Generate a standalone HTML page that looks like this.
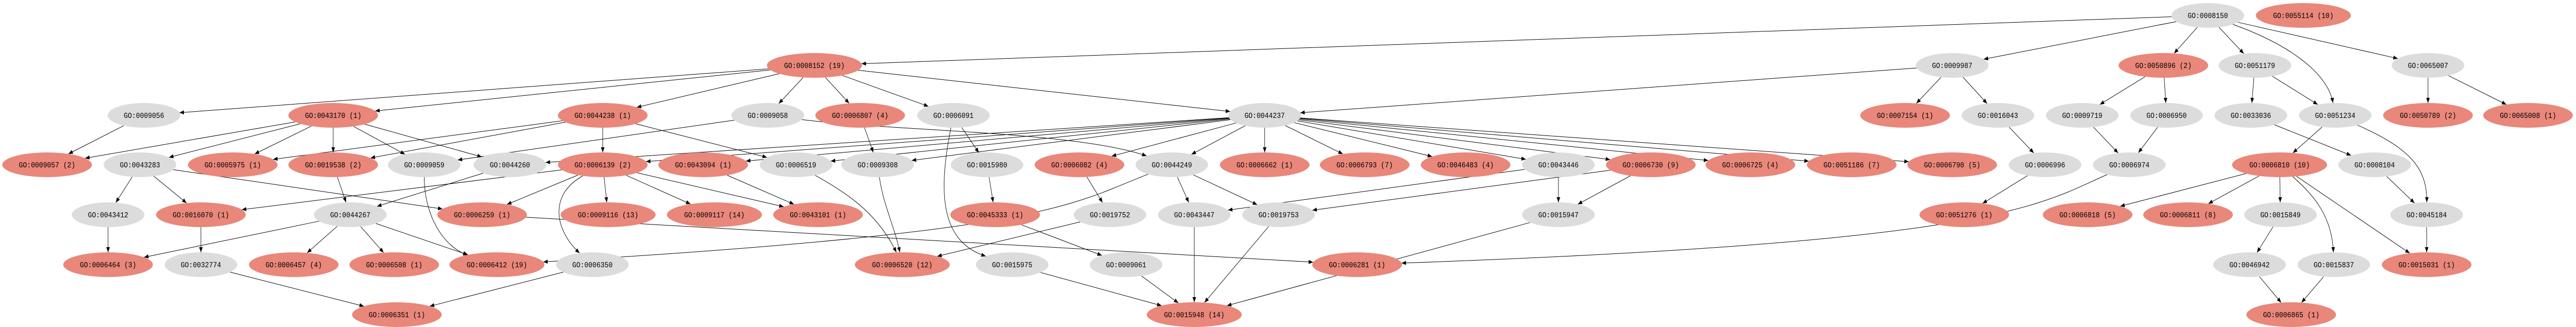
<!DOCTYPE html>
<html><head><meta charset="utf-8"><style>
html,body{margin:0;padding:0;background:#fff;width:100%;height:100%;overflow:hidden;}
svg{display:block;position:absolute;left:0;top:0;width:100vw;height:100vh;overflow:hidden;}
text{font-family:"Liberation Mono",monospace;font-size:15px;fill:#000;}
.r{fill:#E9877A;} .g{fill:#DCDCDC;}
</style></head><body>
<svg id="s" viewBox="0 0 5744 635" preserveAspectRatio="none" xmlns="http://www.w3.org/2000/svg">
<defs><marker id="a" markerWidth="10" markerHeight="8" refX="10" refY="4" orient="auto" markerUnits="userSpaceOnUse"><path d="M0,0 L10,4 L0,8 z" fill="#000"/></marker></defs>
<g id="edges" stroke="#000" stroke-width="1" fill="none"></g>
<g id="nodes" text-anchor="middle">
<g id="n0008150"><ellipse class="g" cx="4923" cy="30" rx="81" ry="24"/><text x="4923" y="35">GO:0008150</text></g>
<g id="n0055114"><ellipse class="r" cx="5136" cy="30" rx="106" ry="24"/><text x="5136" y="35">GO:0055114 (10)</text></g>
<g id="n0008152"><ellipse class="r" cx="1816" cy="127" rx="106" ry="24"/><text x="1816" y="132">GO:0008152 (19)</text></g>
<g id="n0009987"><ellipse class="g" cx="4353" cy="127" rx="81" ry="24"/><text x="4353" y="132">GO:0009987</text></g>
<g id="n0050896"><ellipse class="r" cx="4824" cy="127" rx="100" ry="24"/><text x="4824" y="132">GO:0050896 (2)</text></g>
<g id="n0051179"><ellipse class="g" cx="5028" cy="127" rx="81" ry="24"/><text x="5028" y="132">GO:0051179</text></g>
<g id="n0065007"><ellipse class="g" cx="5414" cy="127" rx="81" ry="24"/><text x="5414" y="132">GO:0065007</text></g>
<g id="n0009056"><ellipse class="g" cx="321" cy="224" rx="81" ry="24"/><text x="321" y="229">GO:0009056</text></g>
<g id="n0043170"><ellipse class="r" cx="743" cy="224" rx="100" ry="24"/><text x="743" y="229">GO:0043170 (1)</text></g>
<g id="n0044238"><ellipse class="r" cx="1344" cy="224" rx="100" ry="24"/><text x="1344" y="229">GO:0044238 (1)</text></g>
<g id="n0009058"><ellipse class="g" cx="1712" cy="224" rx="81" ry="24"/><text x="1712" y="229">GO:0009058</text></g>
<g id="n0006807"><ellipse class="r" cx="1918" cy="224" rx="100" ry="24"/><text x="1918" y="229">GO:0006807 (4)</text></g>
<g id="n0006091"><ellipse class="g" cx="2126" cy="224" rx="81" ry="24"/><text x="2126" y="229">GO:0006091</text></g>
<g id="n0044237"><ellipse class="g" cx="2820" cy="224" rx="81" ry="24"/><text x="2820" y="229">GO:0044237</text></g>
<g id="n0007154"><ellipse class="r" cx="4248" cy="224" rx="100" ry="24"/><text x="4248" y="229">GO:0007154 (1)</text></g>
<g id="n0016043"><ellipse class="g" cx="4455" cy="224" rx="81" ry="24"/><text x="4455" y="229">GO:0016043</text></g>
<g id="n0009719"><ellipse class="g" cx="4643" cy="224" rx="81" ry="24"/><text x="4643" y="229">GO:0009719</text></g>
<g id="n0006950"><ellipse class="g" cx="4831" cy="224" rx="81" ry="24"/><text x="4831" y="229">GO:0006950</text></g>
<g id="n0033036"><ellipse class="g" cx="5019" cy="224" rx="81" ry="24"/><text x="5019" y="229">GO:0033036</text></g>
<g id="n0051234"><ellipse class="g" cx="5207" cy="224" rx="81" ry="24"/><text x="5207" y="229">GO:0051234</text></g>
<g id="n0050789"><ellipse class="r" cx="5414" cy="224" rx="100" ry="24"/><text x="5414" y="229">GO:0050789 (2)</text></g>
<g id="n0065008"><ellipse class="r" cx="5637" cy="224" rx="100" ry="24"/><text x="5637" y="229">GO:0065008 (1)</text></g>
<g id="n0009057"><ellipse class="r" cx="105" cy="320" rx="100" ry="24"/><text x="105" y="325">GO:0009057 (2)</text></g>
<g id="n0043283"><ellipse class="g" cx="312" cy="320" rx="81" ry="24"/><text x="312" y="325">GO:0043283</text></g>
<g id="n0005975"><ellipse class="r" cx="519" cy="320" rx="100" ry="24"/><text x="519" y="325">GO:0005975 (1)</text></g>
<g id="n0019538"><ellipse class="r" cx="743" cy="320" rx="100" ry="24"/><text x="743" y="325">GO:0019538 (2)</text></g>
<g id="n0009059"><ellipse class="g" cx="946" cy="320" rx="81" ry="24"/><text x="946" y="325">GO:0009059</text></g>
<g id="n0044260"><ellipse class="g" cx="1137" cy="320" rx="81" ry="24"/><text x="1137" y="325">GO:0044260</text></g>
<g id="n0006139"><ellipse class="r" cx="1344" cy="320" rx="100" ry="24"/><text x="1344" y="325">GO:0006139 (2)</text></g>
<g id="n0043094"><ellipse class="r" cx="1568" cy="320" rx="100" ry="24"/><text x="1568" y="325">GO:0043094 (1)</text></g>
<g id="n0006519"><ellipse class="g" cx="1775" cy="320" rx="81" ry="24"/><text x="1775" y="325">GO:0006519</text></g>
<g id="n0009308"><ellipse class="g" cx="1957" cy="320" rx="81" ry="24"/><text x="1957" y="325">GO:0009308</text></g>
<g id="n0015980"><ellipse class="g" cx="2201" cy="320" rx="81" ry="24"/><text x="2201" y="325">GO:0015980</text></g>
<g id="n0006082"><ellipse class="r" cx="2407" cy="320" rx="100" ry="24"/><text x="2407" y="325">GO:0006082 (4)</text></g>
<g id="n0044249"><ellipse class="g" cx="2613" cy="320" rx="81" ry="24"/><text x="2613" y="325">GO:0044249</text></g>
<g id="n0006662"><ellipse class="r" cx="2820" cy="320" rx="100" ry="24"/><text x="2820" y="325">GO:0006662 (1)</text></g>
<g id="n0006793"><ellipse class="r" cx="3043" cy="320" rx="100" ry="24"/><text x="3043" y="325">GO:0006793 (7)</text></g>
<g id="n0046483"><ellipse class="r" cx="3268" cy="320" rx="100" ry="24"/><text x="3268" y="325">GO:0046483 (4)</text></g>
<g id="n0043446"><ellipse class="g" cx="3475" cy="320" rx="81" ry="24"/><text x="3475" y="325">GO:0043446</text></g>
<g id="n0006730"><ellipse class="r" cx="3681" cy="320" rx="100" ry="24"/><text x="3681" y="325">GO:0006730 (9)</text></g>
<g id="n0006725"><ellipse class="r" cx="3903" cy="320" rx="100" ry="24"/><text x="3903" y="325">GO:0006725 (4)</text></g>
<g id="n0051186"><ellipse class="r" cx="4129" cy="320" rx="100" ry="24"/><text x="4129" y="325">GO:0051186 (7)</text></g>
<g id="n0006790"><ellipse class="r" cx="4353" cy="320" rx="100" ry="24"/><text x="4353" y="325">GO:0006790 (5)</text></g>
<g id="n0006996"><ellipse class="g" cx="4560" cy="320" rx="81" ry="24"/><text x="4560" y="325">GO:0006996</text></g>
<g id="n0006974"><ellipse class="g" cx="4748" cy="320" rx="81" ry="24"/><text x="4748" y="325">GO:0006974</text></g>
<g id="n0006810"><ellipse class="r" cx="5083" cy="320" rx="106" ry="24"/><text x="5083" y="325">GO:0006810 (10)</text></g>
<g id="n0008104"><ellipse class="g" cx="5295" cy="320" rx="81" ry="24"/><text x="5295" y="325">GO:0008104</text></g>
<g id="n0043412"><ellipse class="g" cx="241" cy="417" rx="81" ry="24"/><text x="241" y="422">GO:0043412</text></g>
<g id="n0016070"><ellipse class="r" cx="448" cy="417" rx="100" ry="24"/><text x="448" y="422">GO:0016070 (1)</text></g>
<g id="n0044267"><ellipse class="g" cx="781" cy="417" rx="81" ry="24"/><text x="781" y="422">GO:0044267</text></g>
<g id="n0006259"><ellipse class="r" cx="1075" cy="417" rx="100" ry="24"/><text x="1075" y="422">GO:0006259 (1)</text></g>
<g id="n0009116"><ellipse class="r" cx="1356" cy="417" rx="106" ry="24"/><text x="1356" y="422">GO:0009116 (13)</text></g>
<g id="n0009117"><ellipse class="r" cx="1593" cy="417" rx="106" ry="24"/><text x="1593" y="422">GO:0009117 (14)</text></g>
<g id="n0043101"><ellipse class="r" cx="1824" cy="417" rx="100" ry="24"/><text x="1824" y="422">GO:0043101 (1)</text></g>
<g id="n0045333"><ellipse class="r" cx="2219" cy="417" rx="100" ry="24"/><text x="2219" y="422">GO:0045333 (1)</text></g>
<g id="n0019752"><ellipse class="g" cx="2475" cy="417" rx="81" ry="24"/><text x="2475" y="422">GO:0019752</text></g>
<g id="n0043447"><ellipse class="g" cx="2663" cy="417" rx="81" ry="24"/><text x="2663" y="422">GO:0043447</text></g>
<g id="n0019753"><ellipse class="g" cx="2851" cy="417" rx="81" ry="24"/><text x="2851" y="422">GO:0019753</text></g>
<g id="n0015947"><ellipse class="g" cx="3475" cy="417" rx="81" ry="24"/><text x="3475" y="422">GO:0015947</text></g>
<g id="n0051276"><ellipse class="r" cx="4380" cy="417" rx="100" ry="24"/><text x="4380" y="422">GO:0051276 (1)</text></g>
<g id="n0006818"><ellipse class="r" cx="4655" cy="417" rx="100" ry="24"/><text x="4655" y="422">GO:0006818 (5)</text></g>
<g id="n0006811"><ellipse class="r" cx="4879" cy="417" rx="100" ry="24"/><text x="4879" y="422">GO:0006811 (8)</text></g>
<g id="n0015849"><ellipse class="g" cx="5085" cy="417" rx="81" ry="24"/><text x="5085" y="422">GO:0015849</text></g>
<g id="n0045184"><ellipse class="g" cx="5411" cy="417" rx="81" ry="24"/><text x="5411" y="422">GO:0045184</text></g>
<g id="n0006464"><ellipse class="r" cx="241" cy="514" rx="100" ry="24"/><text x="241" y="519">GO:0006464 (3)</text></g>
<g id="n0032774"><ellipse class="g" cx="448" cy="514" rx="81" ry="24"/><text x="448" y="519">GO:0032774</text></g>
<g id="n0006457"><ellipse class="r" cx="655" cy="514" rx="100" ry="24"/><text x="655" y="519">GO:0006457 (4)</text></g>
<g id="n0006508"><ellipse class="r" cx="879" cy="514" rx="100" ry="24"/><text x="879" y="519">GO:0006508 (1)</text></g>
<g id="n0006412"><ellipse class="r" cx="1108" cy="514" rx="106" ry="24"/><text x="1108" y="519">GO:0006412 (19)</text></g>
<g id="n0006350"><ellipse class="g" cx="1321" cy="514" rx="81" ry="24"/><text x="1321" y="519">GO:0006350</text></g>
<g id="n0006520"><ellipse class="r" cx="2012" cy="514" rx="106" ry="24"/><text x="2012" y="519">GO:0006520 (12)</text></g>
<g id="n0015975"><ellipse class="g" cx="2257" cy="514" rx="81" ry="24"/><text x="2257" y="519">GO:0015975</text></g>
<g id="n0009061"><ellipse class="g" cx="2511" cy="514" rx="81" ry="24"/><text x="2511" y="519">GO:0009061</text></g>
<g id="n0006281"><ellipse class="r" cx="3026" cy="514" rx="100" ry="24"/><text x="3026" y="519">GO:0006281 (1)</text></g>
<g id="n0046942"><ellipse class="g" cx="5016" cy="514" rx="81" ry="24"/><text x="5016" y="519">GO:0046942</text></g>
<g id="n0015837"><ellipse class="g" cx="5204" cy="514" rx="81" ry="24"/><text x="5204" y="519">GO:0015837</text></g>
<g id="n0015031"><ellipse class="r" cx="5411" cy="514" rx="100" ry="24"/><text x="5411" y="519">GO:0015031 (1)</text></g>
<g id="n0006351"><ellipse class="r" cx="885" cy="611" rx="100" ry="24"/><text x="885" y="616">GO:0006351 (1)</text></g>
<g id="n0015948"><ellipse class="r" cx="2663" cy="611" rx="106" ry="24"/><text x="2663" y="616">GO:0015948 (14)</text></g>
<g id="n0006865"><ellipse class="r" cx="5109" cy="611" rx="100" ry="24"/><text x="5109" y="616">GO:0006865 (1)</text></g>
</g>
</svg>
<script>
(function(){
var E={
"0008150":["0008152","0009987","0050896","0051179","0051234","0065007"],
"0008152":["0009056","0043170","0044238","0009058","0006807","0006091","0044237"],
"0009987":["0044237","0007154","0016043"],
"0050896":["0009719","0006950"],
"0051179":["0033036","0051234"],
"0065007":["0050789","0065008"],
"0009056":["0009057"],
"0043170":["0009057","0043283","0005975","0019538","0009059","0044260"],
"0044238":["0005975","0019538","0006139","0006519"],
"0009058":["0009059","0044249"],
"0006807":["0009308"],
"0006091":["0015980","0015975"],
"0044237":["0044260","0006139","0043094","0006519","0009308","0006082","0044249","0006662","0006793","0046483","0043446","0006730","0006725","0051186","0006790"],
"0016043":["0006996"],
"0009719":["0006974"],
"0006950":["0006974"],
"0033036":["0008104"],
"0051234":["0006810","0045184"],
"0043283":["0043412","0016070","0006259"],
"0019538":["0044267"],
"0009059":["0006412"],
"0044260":["0044267"],
"0006139":["0016070","0006259","0009116","0009117","0043101","0006350"],
"0043094":["0043101"],
"0006519":["0006520"],
"0009308":["0006520"],
"0015980":["0045333"],
"0006082":["0019752"],
"0044249":["0043447","0019753","0006412"],
"0043446":["0043447","0015947"],
"0006730":["0019753","0015947"],
"0006996":["0051276"],
"0006974":["0006281"],
"0006810":["0006818","0006811","0015849","0015837","0015031"],
"0008104":["0045184"],
"0043412":["0006464"],
"0016070":["0032774"],
"0044267":["0006464","0006457","0006508","0006412"],
"0006259":["0006281"],
"0045333":["0009061"],
"0019752":["0006520"],
"0043447":["0015948"],
"0019753":["0015948"],
"0015947":["0015948"],
"0015849":["0046942"],
"0045184":["0015031"],
"0032774":["0006351"],
"0006350":["0006351"],
"0015975":["0015948"],
"0009061":["0015948"],
"0046942":["0006865"],
"0015837":["0006865"]
};
/* curved edges: [c1x,c1y,c2x,c2y] */
var C={
"0008150>0051234":[5100,85,5190,140],
"0006091>0015975":[2090,380,2100,470],
"0051234>0045184":[5380,290,5412,330],
"0006139>0006350":[1220,380,1240,450],
"0009059>0006412":[946,420,990,480],
"0006519>0006520":[1900,380,1960,420],
"0009308>0006520":[1970,400,1995,440],
"0044249>0006412":[2380,400,2330,450],
"0009058>0044249":[2000,255,2400,255],
"0006974>0006281":[4540,400,4450,470],
"0006810>0015837":[5160,380,5200,420]
};
function g(id){var e=document.querySelector("#n"+id+" ellipse");return {x:+e.getAttribute("cx"),y:+e.getAttribute("cy"),rx:+e.getAttribute("rx"),ry:+e.getAttribute("ry")};}
function clip(n,dx,dy){var t=1/Math.sqrt((dx/n.rx)*(dx/n.rx)+(dy/n.ry)*(dy/n.ry));return [n.x+dx*t,n.y+dy*t];}
var ns="http://www.w3.org/2000/svg",G=document.getElementById("edges");
for(var s in E){var a=g(s);E[s].forEach(function(t){var b=g(t);var c=C[s+">"+t];var el;
if(c){var p=clip(a,c[0]-a.x,c[1]-a.y),q=clip(b,c[2]-b.x,c[3]-b.y);
el=document.createElementNS(ns,"path");el.setAttribute("d","M"+p[0]+","+p[1]+" C"+c[0]+","+c[1]+" "+c[2]+","+c[3]+" "+q[0]+","+q[1]);}
else{var dx=b.x-a.x,dy=b.y-a.y;var p=clip(a,dx,dy),q=clip(b,-dx,-dy);
el=document.createElementNS(ns,"line");el.setAttribute("x1",p[0]);el.setAttribute("y1",p[1]);el.setAttribute("x2",q[0]);el.setAttribute("y2",q[1]);}
el.setAttribute("marker-end","url(#a)");G.appendChild(el);});}
})();
</script>
</body></html>
